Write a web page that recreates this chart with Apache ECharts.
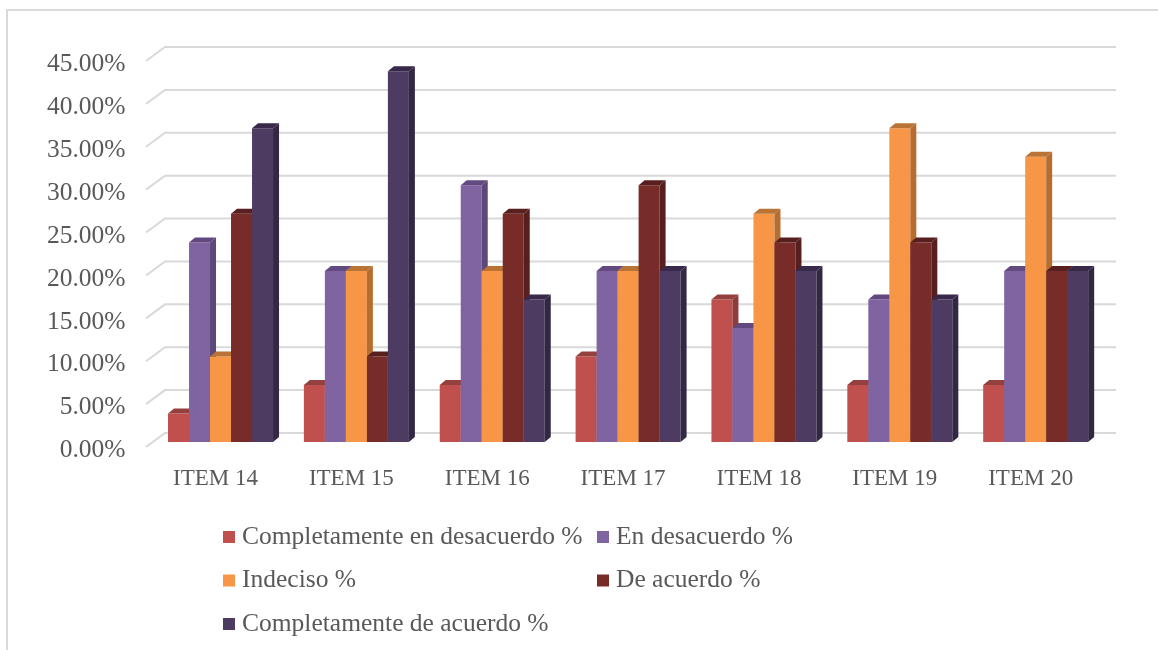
<!DOCTYPE html>
<html>
<head>
<meta charset="utf-8">
<style>html,body{margin:0;padding:0;background:#fff}#c{width:1158px;height:650px}</style>
<script src="https://cdn.jsdelivr.net/npm/echarts@6/dist/echarts.min.js"></script>
</head>
<body>
<div id="c"></div>
<script>
var categories = ['ITEM 14','ITEM 15','ITEM 16','ITEM 17','ITEM 18','ITEM 19','ITEM 20'];
var completelyDisagree = [3.33, 6.67, 6.67, 10, 16.67, 6.67, 6.67];
var disagree = [23.33, 20, 30, 20, 13.33, 16.67, 20];
var undecided = [10, 20, 20, 20, 26.67, 36.67, 33.33];
var agree = [26.67, 10, 26.67, 30, 23.33, 23.33, 20];
var completelyAgree = [36.67, 43.33, 16.67, 20, 20, 16.67, 20];
var seriesNames = ['Completamente en desacuerdo %','En desacuerdo %','Indeciso %','De acuerdo %','Completamente de acuerdo %'];
var frontColors = ['#C0504D','#8064A2','#F79646','#772C2A','#4D3B62'];
var topColors = ['#93403E','#62497F','#B87335','#591F1F','#38294A'];
var sideColors = ['#8F3B39','#5E4879','#B56E30','#571F1E','#332844'];
var gridTicks = [0,5,10,15,20,25,30,35,40,45];

var FONT = '"Liberation Serif", serif';
var TEXT = '#595959';
var DEPTH_X = 6, DEPTH_Y = 5;
var BAR_SHARE = 0.1546;

function barRender(k){
  return function(params, api){
    var idx = api.value(0), v = api.value(1);
    var catW = api.size([1,0])[0];
    var w = catW * BAR_SHARE;
    var c = api.coord([idx, v]);
    var b = api.coord([idx, 0]);
    var x = c[0] + (k - 2.5) * w;
    var y = c[1], y0 = b[1];
    return {type:'group', children:[
      {type:'rect', shape:{x:x,y:y,width:w,height:y0-y}, style:{fill:frontColors[k]}},
      {type:'polygon', shape:{points:[[x,y],[x+DEPTH_X,y-DEPTH_Y],[x+w+DEPTH_X,y-DEPTH_Y],[x+w,y]]}, style:{fill:topColors[k]}},
      {type:'polygon', shape:{points:[[x+w,y],[x+w+DEPTH_X,y-DEPTH_Y],[x+w+DEPTH_X,y0-DEPTH_Y],[x+w,y0]]}, style:{fill:sideColors[k]}}
    ]};
  };
}
function wallRender(params, api){
  var c = api.coord([0, api.value(0)]);
  var r = params.coordSys;
  var x = r.x, y = c[1];
  return {type:'polyline', shape:{points:[[x-6.6,y+5],[x+12.4,y-9],[x+12.4+r.width,y-9]]},
    style:{fill:null, stroke:'#D9D9D9', lineWidth:2}};
}
var valueLists = [completelyDisagree, disagree, undecided, agree, completelyAgree];
var series = [{
  type:'custom', name:'walls', renderItem:wallRender, silent:true, z:1, clip:false, xAxisIndex:1, yAxisIndex:2,
  encode:{y:0}, data:gridTicks.map(function(t){return [t];})
}];
valueLists.forEach(function(vals,k){
  series.push({
    type:'custom', name:seriesNames[k], renderItem:barRender(k), z:2+k, clip:false,
    itemStyle:{color:frontColors[k]}, encode:{x:0,y:1},
    data:vals.map(function(v,i){return [i,v];})
  });
});
function legendOf(names,left){
  return {orient:'vertical', left:left, top:524, itemGap:17.5, itemWidth:12, itemHeight:12, icon:'rect',
    selectedMode:false, padding:0, itemStyle:{borderWidth:0},
    textStyle:{fontFamily:FONT, fontSize:25.5, color:TEXT, padding:[0,0,0,2], lineHeight:26},
    data:names.map(function(n){return {name:n, icon:'rect', itemStyle:{color:frontColors[seriesNames.indexOf(n)]}};})};
}
var chart = echarts.init(document.getElementById('c'), null, {renderer:'canvas'});
chart.setOption({
  animation:false, backgroundColor:'#fff',
  grid:[{left:152.6, width:951, top:57, height:385},
        {left:152.6, width:951, top:64.5, height:386},
        {left:152.6, width:951, top:56, height:386}],
  xAxis:[{type:'category', data:categories, boundaryGap:true,
      axisLine:{show:false}, axisTick:{show:false}, splitLine:{show:false},
      axisLabel:{fontFamily:FONT, fontSize:23, color:TEXT, margin:25, padding:[0,10,0,0]}},
    {type:'category', gridIndex:2, data:categories, show:false},
    {type:'category', gridIndex:1, data:categories, show:false}],
  yAxis:[{type:'value', min:0, max:45, interval:5, splitLine:{show:false}, axisLine:{show:false}, axisTick:{show:false}, axisLabel:{show:false}},
    {type:'value', gridIndex:1, min:0, max:45, interval:5, splitLine:{show:false}, axisLine:{show:false}, axisTick:{show:false},
      axisLabel:{fontFamily:FONT, fontSize:25.5, color:TEXT, margin:27,
        formatter:function(v){return v.toFixed(2)+'%';}}},
    {type:'value', gridIndex:2, min:0, max:45, interval:5, show:false}],
  legend:[legendOf(seriesNames.filter(function(n,i){return i%2===0;}),223),
          legendOf(seriesNames.filter(function(n,i){return i%2===1;}),597)],
  graphic:[{type:'rect', silent:true, z:0, shape:{x:7,y:10,width:1300,height:800}, style:{fill:null,stroke:'#D9D9D9',lineWidth:2}}],
  series:series
});
</script>
</body>
</html>
